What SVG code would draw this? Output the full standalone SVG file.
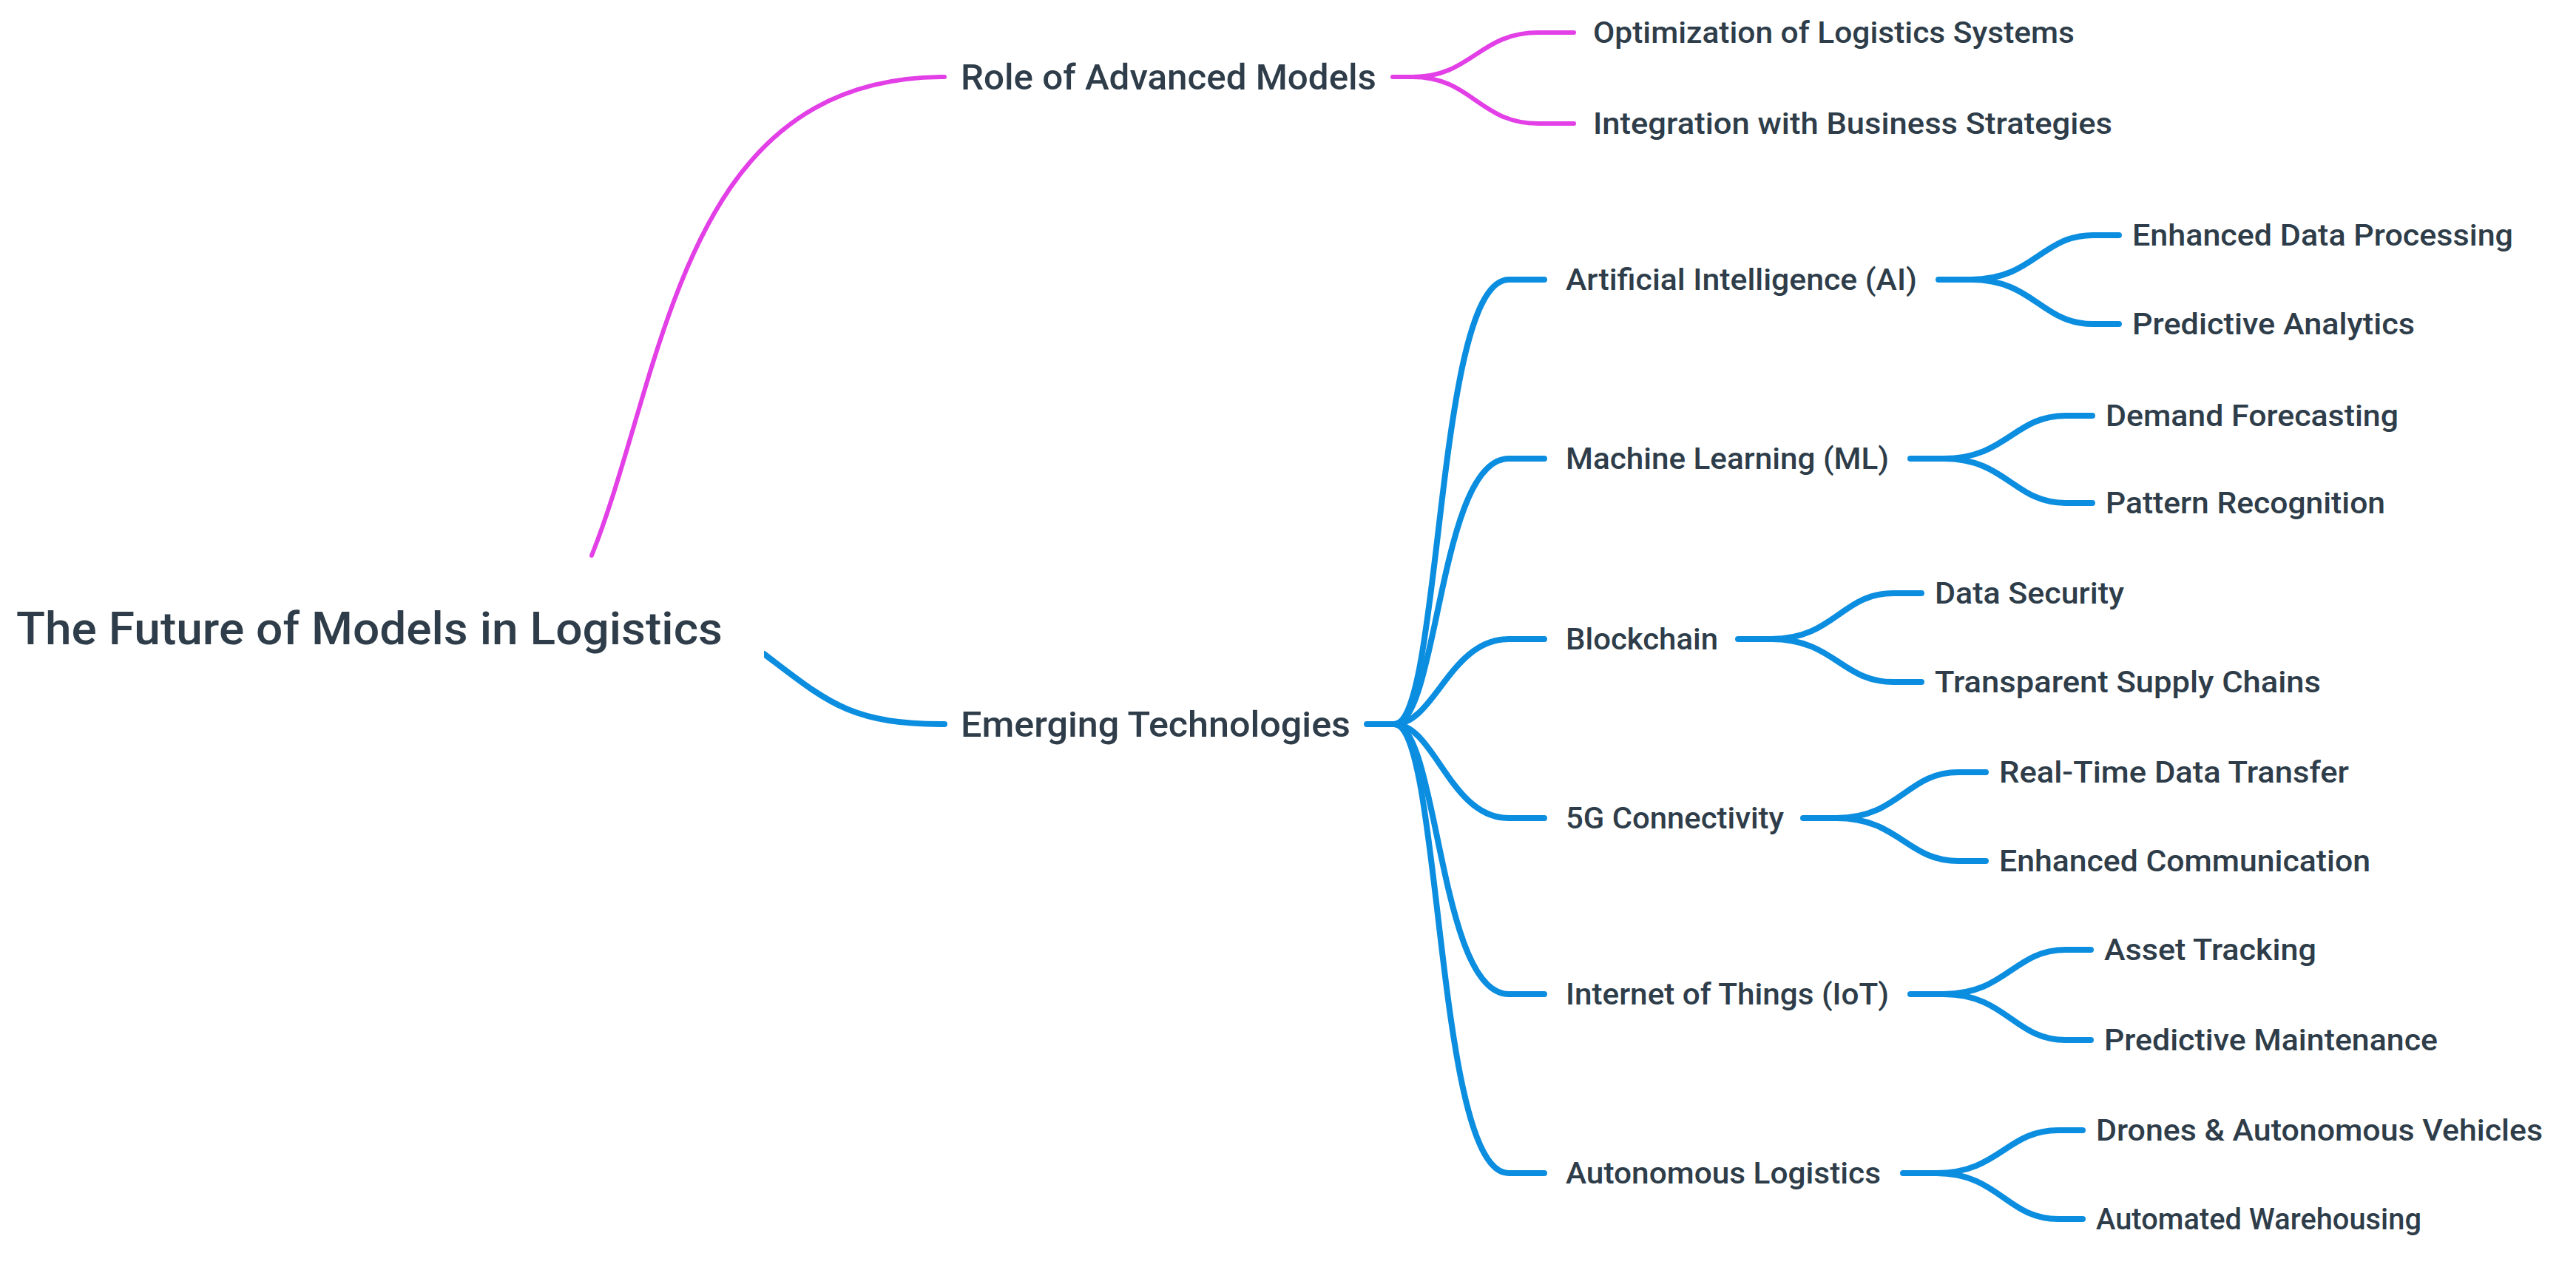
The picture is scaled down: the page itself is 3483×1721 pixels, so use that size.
<svg xmlns="http://www.w3.org/2000/svg" width="3483" height="1721" viewBox="0 0 3483 1721">
<style>
text{font-family:Roboto,"Liberation Sans",sans-serif;fill:#2e3d49;dominant-baseline:central;font-weight:500}
.l0{font-size:62px}
.l1{font-size:48px}
.l2,.l3{font-size:40px}
.b{fill:none;stroke:#0b8de0;stroke-width:8;stroke-linecap:round}
.m{fill:none;stroke:#e23fe6;stroke-width:6;stroke-linecap:round}
</style>
<rect width="3483" height="1721" fill="#fff"/>
<g id="connectors">
<path class="m" d="M800 751 C900 500 920 104 1277 104"/>
<path class="b" d="M1033 884 C1120 950 1150 979 1277 979"/>
<path class="m" d="M1883 104 H1910 C1990 104 2000 44 2080 44 H2128 M1910 104 C1990 104 2000 167 2080 167 H2128"/>
<g>
<path class="b" d="M1848 979 H1885 C1950 979 1940 378 2040 378 H2088"/>
<path class="b" d="M1885 979 C1945 979 1945 620 2040 620 H2088"/>
<path class="b" d="M1885 979 C1940 979 1960 864 2040 864 H2088"/>
<path class="b" d="M1885 979 C1940 979 1960 1106 2040 1106 H2088"/>
<path class="b" d="M1885 979 C1945 979 1945 1344 2040 1344 H2088"/>
<path class="b" d="M1885 979 C1950 979 1940 1586 2040 1586 H2088"/>
</g>
<path class="b" d="M2621 378 H2665 C2750 378 2760 318 2830 318 H2865 M2665 378 C2750 378 2760 438 2830 438 H2865"/>
<path class="b" d="M2583 620 H2628 C2713 620 2723 562 2793 562 H2829 M2628 620 C2713 620 2723 680 2793 680 H2829"/>
<path class="b" d="M2350 864 H2395 C2480 864 2490 802 2560 802 H2598 M2395 864 C2480 864 2490 922 2560 922 H2598"/>
<path class="b" d="M2438 1106 H2483 C2568 1106 2578 1044 2648 1044 H2685 M2483 1106 C2568 1106 2578 1164 2648 1164 H2685"/>
<path class="b" d="M2583 1344 H2628 C2713 1344 2723 1284 2793 1284 H2827 M2628 1344 C2713 1344 2723 1406 2793 1406 H2827"/>
<path class="b" d="M2573 1586 H2618 C2703 1586 2713 1528 2783 1528 H2816 M2618 1586 C2703 1586 2713 1648 2783 1648 H2816"/>
</g>
<g id="root"><rect x="0" y="766" width="1033" height="170" fill="#fff"/><text class="l0" x="22" y="849" textLength="955" lengthAdjust="spacingAndGlyphs">The Future of Models in Logistics</text></g>
<g id="role"><text class="l1" x="1299" y="104" textLength="562" lengthAdjust="spacingAndGlyphs">Role of Advanced Models</text></g>
<g id="role-opt"><text class="l3" x="2154" y="44" textLength="651" lengthAdjust="spacingAndGlyphs">Optimization of Logistics Systems</text></g>
<g id="role-int"><text class="l3" x="2154" y="167" textLength="702" lengthAdjust="spacingAndGlyphs">Integration with Business Strategies</text></g>
<g id="emerging"><text class="l1" x="1299" y="979" textLength="527" lengthAdjust="spacingAndGlyphs">Emerging Technologies</text></g>
<g id="ai"><text class="l2" x="2117" y="378" textLength="475" lengthAdjust="spacingAndGlyphs">Artificial Intelligence (AI)</text></g>
<g id="ml"><text class="l2" x="2117" y="620" textLength="437" lengthAdjust="spacingAndGlyphs">Machine Learning (ML)</text></g>
<g id="blockchain"><text class="l2" x="2117" y="864" textLength="206" lengthAdjust="spacingAndGlyphs">Blockchain</text></g>
<g id="g5"><text class="l2" x="2117" y="1106" textLength="295" lengthAdjust="spacingAndGlyphs">5G Connectivity</text></g>
<g id="iot"><text class="l2" x="2117" y="1344" textLength="437" lengthAdjust="spacingAndGlyphs">Internet of Things (IoT)</text></g>
<g id="auto"><text class="l2" x="2117" y="1586" textLength="426" lengthAdjust="spacingAndGlyphs">Autonomous Logistics</text></g>
<g id="ai1"><text class="l3" x="2883" y="318" textLength="515" lengthAdjust="spacingAndGlyphs">Enhanced Data Processing</text></g>
<g id="ai2"><text class="l3" x="2883" y="438" textLength="382" lengthAdjust="spacingAndGlyphs">Predictive Analytics</text></g>
<g id="ml1"><text class="l3" x="2847" y="562" textLength="396" lengthAdjust="spacingAndGlyphs">Demand Forecasting</text></g>
<g id="ml2"><text class="l3" x="2847" y="680" textLength="378" lengthAdjust="spacingAndGlyphs">Pattern Recognition</text></g>
<g id="bc1"><text class="l3" x="2616" y="802" textLength="256" lengthAdjust="spacingAndGlyphs">Data Security</text></g>
<g id="bc2"><text class="l3" x="2616" y="922" textLength="522" lengthAdjust="spacingAndGlyphs">Transparent Supply Chains</text></g>
<g id="g51"><text class="l3" x="2703" y="1044" textLength="473" lengthAdjust="spacingAndGlyphs">Real-Time Data Transfer</text></g>
<g id="g52"><text class="l3" x="2703" y="1164" textLength="502" lengthAdjust="spacingAndGlyphs">Enhanced Communication</text></g>
<g id="iot1"><text class="l3" x="2845" y="1284" textLength="287" lengthAdjust="spacingAndGlyphs">Asset Tracking</text></g>
<g id="iot2"><text class="l3" x="2845" y="1406" textLength="451" lengthAdjust="spacingAndGlyphs">Predictive Maintenance</text></g>
<g id="au1"><text class="l3" x="2834" y="1528" textLength="604" lengthAdjust="spacingAndGlyphs">Drones &amp; Autonomous Vehicles</text></g>
<g id="au2"><text class="l3" x="2834" y="1648" textLength="440" lengthAdjust="spacingAndGlyphs">Automated Warehousing</text></g>
</svg>
